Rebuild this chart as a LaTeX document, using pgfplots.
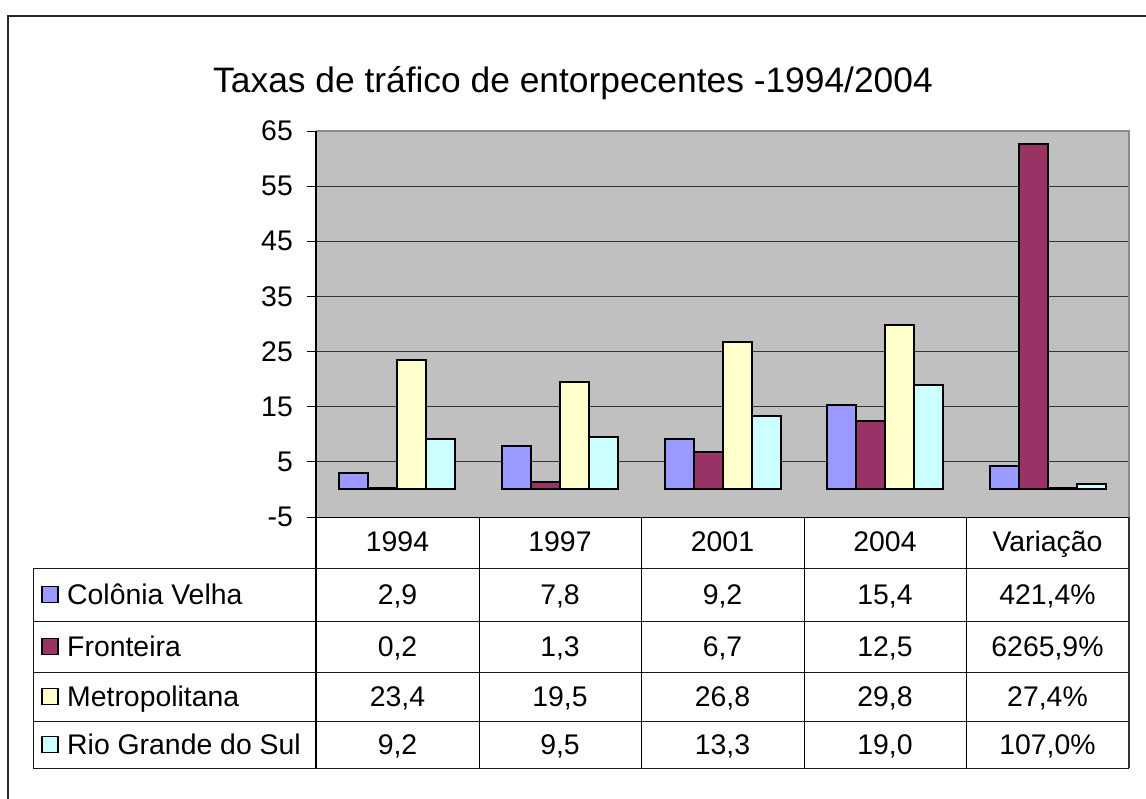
\documentclass[border=0pt]{standalone}
\usepackage{pgfplots}
\pgfplotsset{compat=1.18}
\usepackage{fontspec}
\setmainfont{Liberation Sans}
\definecolor{cv}{HTML}{9999FF}
\definecolor{fr}{HTML}{993366}
\definecolor{me}{HTML}{FFFFCC}
\definecolor{rs}{HTML}{CCFFFF}
\definecolor{plotbg}{HTML}{C0C0C0}
\newcommand\tfont{\fontsize{28.5}{32}\selectfont}
\newcommand\trow[7]{%
  \draw[fill=#2, draw=black, line width=1.2] (42,#1-8) rectangle (58,#1+8);
  \node[anchor=base west, font=\tfont, inner sep=0] at (67,#1+10) {#3};
  \node[anchor=base, font=\tfont, inner sep=0] at (397.5,#1+10) {#4};
  \node[anchor=base, font=\tfont, inner sep=0] at (560,#1+10) {#5};
  \node[anchor=base, font=\tfont, inner sep=0] at (722.5,#1+10) {#6};
  \node[anchor=base, font=\tfont, inner sep=0] at (885,#1+10) {#7};
}
\begin{document}
\begin{tikzpicture}
\path[use as bounding box] (0,0) rectangle (1146bp,-799bp);
\begin{axis}[
  at={(316bp,-517bp)}, anchor=south west,
  scale only axis, width=813bp, height=386bp,
  xmin=-0.5, xmax=4.5, ymin=-5, ymax=65,
  ybar=0pt, bar width=29bp,
  xtick=\empty,
  ytick={-5,5,15,25,35,45,55,65},
  ytick pos=left,
  ytick align=outside, major tick length=9bp,
  tick style={black, line width=1bp},
  ymajorgrids, major grid style={black!80, line width=1bp},
  axis line style={draw=none},
  axis background/.style={fill=plotbg},
  /pgf/number format/assume math mode=true,
  yticklabel style={font=\fontsize{28.5}{32}\selectfont, anchor=east, inner sep=0pt, xshift=-14bp},
  every axis plot/.append style={draw=black, line width=2bp},
]
\addplot[fill=cv] coordinates {(0,2.9) (1,7.8) (2,9.2) (3,15.4) (4,4.214)};
\addplot[fill=fr] coordinates {(0,0.2) (1,1.3) (2,6.7) (3,12.5) (4,62.659)};
\addplot[fill=me] coordinates {(0,23.4) (1,19.5) (2,26.8) (3,29.8) (4,0.274)};
\addplot[fill=rs] coordinates {(0,9.2) (1,9.5) (2,13.3) (3,19.0) (4,1.070)};
\end{axis}
\begin{scope}[x=1bp,y=-1bp]
% outer frame
\draw[black!85, line width=1.5] (8,799) -- (8,16) -- (1146,16);
% plot borders
\draw[black!45, line width=1.5] (316,131) -- (1129,131) -- (1129,517);
\draw[black, line width=1.5] (316,131) -- (316,768);
\draw[black, line width=1] (316,517) -- (1129,517);
% title
\node[anchor=base, font=\fontsize{35.5}{40}\selectfont, inner sep=0] at (573,92) {Taxas de tráfico de entorpecentes -1994/2004};
% table lines
\foreach \y in {568,621,672,721,768} \draw[black!90, line width=1] (33,\y) -- (1129,\y);
\draw[black!90, line width=1] (33,568) -- (33,768);
\foreach \x in {479,641,804,966} \draw[black, line width=1] (\x,517) -- (\x,768);
\draw[black!80, line width=1.2] (1129,517) -- (1129,768);
% header
\node[anchor=base, font=\tfont, inner sep=0] at (397.5,551.5) {1994};
\node[anchor=base, font=\tfont, inner sep=0] at (560,551.5) {1997};
\node[anchor=base, font=\tfont, inner sep=0] at (722.5,551.5) {2001};
\node[anchor=base, font=\tfont, inner sep=0] at (885,551.5) {2004};
\node[anchor=base, font=\tfont, inner sep=0] at (1047.5,551.5) {Variação};
% rows
\trow{594.5}{cv}{Colônia Velha}{2,9}{7,8}{9,2}{15,4}
\node[anchor=base, font=\tfont, inner sep=0] at (1047.5,604.5) {421,4\%};
\trow{646.5}{fr}{Fronteira}{0,2}{1,3}{6,7}{12,5}
\node[anchor=base, font=\tfont, inner sep=0] at (1047.5,656.5) {6265,9\%};
\trow{696.5}{me}{Metropolitana}{23,4}{19,5}{26,8}{29,8}
\node[anchor=base, font=\tfont, inner sep=0] at (1047.5,706.5) {27,4\%};
\trow{744.5}{rs}{Rio Grande do Sul}{9,2}{9,5}{13,3}{19,0}
\node[anchor=base, font=\tfont, inner sep=0] at (1047.5,754.5) {107,0\%};
\end{scope}
\end{tikzpicture}
\end{document}
